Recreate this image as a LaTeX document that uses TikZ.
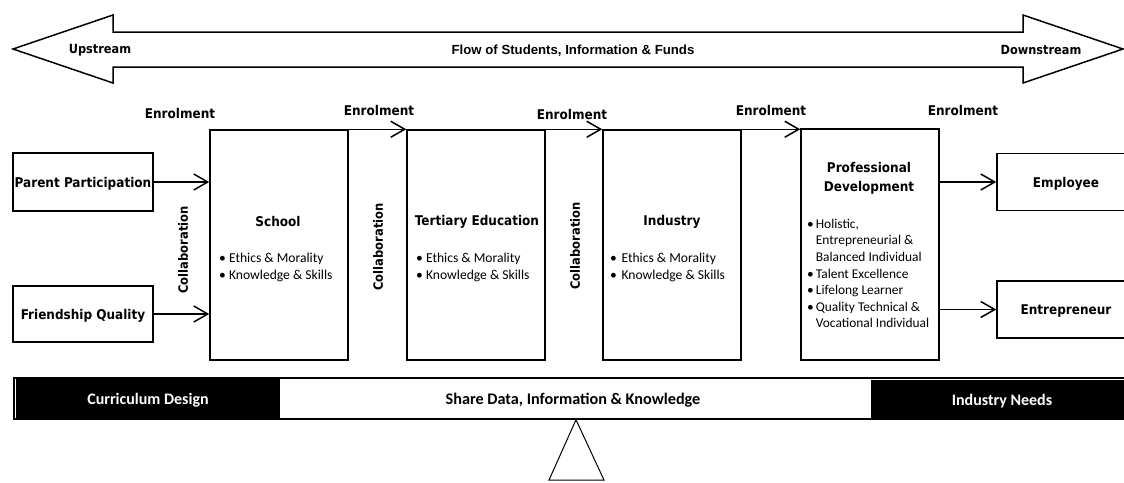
\documentclass[tikz,border=0pt]{standalone}
\usepackage{fontspec}
\setmainfont{Carlito}
\newfontfamily\tah{DejaVu Sans Condensed}
\newfontfamily\arl{Liberation Sans}
\usetikzlibrary{arrows.meta}
\tikzset{
  box/.style={draw, line width=1.5pt, inner sep=0pt},
  arr/.style={line width=1.5pt, -{Straight Barb[length=14pt,width=16pt,line width=1.5pt]}},
  bt/.style={font=\tah\bfseries\fontsize{13.4}{15}\selectfont, inner sep=0pt},
  bul/.style={font=\fontsize{13.6}{17}\selectfont, align=left, inner sep=0pt, anchor=west},
  blk/.style={fill=black, draw=black, inner sep=0pt, text=white, font=\bfseries\fontsize{16}{18}\selectfont}
}
\begin{document}
\begin{tikzpicture}[x=1pt,y=-1pt]
\useasboundingbox (0,0) rectangle (1124,482);
\clip (0,0) rectangle (1124,482);
% big double arrow
\draw[line width=1.5pt, line join=miter] (13,49) -- (113,15) -- (113,32) -- (1023,32) -- (1023,15) -- (1123,49)
  -- (1023,83) -- (1023,67) -- (113,67) -- (113,83) -- cycle;
\node[bt, font=\tah\bfseries\fontsize{12.6}{15}\selectfont] (up) at (100,50) {Upstream};
\node[font=\arl\bfseries\fontsize{13.2}{15}\selectfont, inner sep=0pt] (flow) at (573,50.5) {Flow of Students, Information \& Funds};
\node[bt, font=\tah\bfseries\fontsize{12.6}{15}\selectfont] (down) at (1041,50) {Downstream};
% side boxes
\node[box, minimum width=140pt, minimum height=58pt] (parent) at (83,182) {};
\node[bt] (parentt) at (83,183.5) {Parent Participation};
\node[box, minimum width=140pt, minimum height=56pt] (friend) at (83,314) {};
\node[bt] (friendt) at (83,316) {Friendship Quality};
% main boxes
\node[box, minimum width=138pt, minimum height=230pt] (school) at (279,245) {};
\node[box, minimum width=138pt, minimum height=230pt] (tert) at (476,245) {};
\node[box, minimum width=138pt, minimum height=230pt] (ind) at (672,245) {};
\node[box, minimum width=138pt, minimum height=231pt] (pd) at (870,244.5) {};
\node[bt] (schoolt) at (278,222) {School};
\node[bt] (tertt) at (477,222) {Tertiary Education};
\node[bt] (indt) at (672,222) {Industry};
\node[bt, align=center, font=\tah\bfseries\fontsize{13.4}{19.5}\selectfont] (pdt) at (869,178.5) {Professional\\Development};
\node[bul] (schoolb) at (219,267) {\textbullet\ Ethics \& Morality\\\textbullet\ Knowledge \& Skills};
\node[bul] (tertb) at (416,267) {\textbullet\ Ethics \& Morality\\\textbullet\ Knowledge \& Skills};
\node[bul] (indb) at (610,267) {\textbullet\ \kern1.5pt Ethics \& Morality\\\textbullet\ \kern1.5pt Knowledge \& Skills};
\node[anchor=north west, inner sep=0pt, font=\fontsize{13.4}{16.6}\selectfont] (pdb) at (807,216.5) {%
\begin{tabular}{@{}l@{\hspace{2pt}}l@{}}
\textbullet & Holistic,\\
 & Entrepreneurial \&\\
 & Balanced Individual\\
\textbullet & Talent Excellence\\
\textbullet & Lifelong Learner\\
\textbullet & Quality Technical \&\\
 & Vocational Individual
\end{tabular}};
% outcome boxes
\node[box, minimum width=135pt, minimum height=57pt] (emp) at (1064.5,182) {};
\node[bt] (empt) at (1066,184) {Employee};
\node[box, minimum width=135pt, minimum height=57pt] (ent) at (1064.5,309.5) {};
\node[bt] (entt) at (1066,311.5) {Entrepreneur};
% enrolment labels
\node[bt] (e1) at (180,114) {Enrolment};
\node[bt] (e2) at (379,111) {Enrolment};
\node[bt] (e3) at (572,115) {Enrolment};
\node[bt] (e4) at (771,111) {Enrolment};
\node[bt] (e5) at (963,111) {Enrolment};
% collaboration labels
\node[bt, rotate=90, font=\tah\bfseries\fontsize{12.8}{15}\selectfont] (c1) at (183,250) {Collaboration};
\node[bt, rotate=90, font=\tah\bfseries\fontsize{12.8}{15}\selectfont] (c2) at (378,247) {Collaboration};
\node[bt, rotate=90, font=\tah\bfseries\fontsize{12.8}{15}\selectfont] (c3) at (575,246) {Collaboration};
% connectors
\draw[arr] (school.north east) -- (tert.north west);
\draw[arr] (tert.north east) -- (ind.north west);
\draw[arr] (ind.north east) -- (ind.north east -| pd.west);
\draw[arr] (parent.east) -- (parent.east -| school.west);
\draw[arr] (friend.east) -- (friend.east -| school.west);
\draw[arr] (pd.east |- emp.west) -- (emp.west);
\draw[arr] (pd.east |- ent.west) -- (ent.west);
% bottom bar
\node[box, minimum width=1116pt, minimum height=41pt] (bar) at (572,398.5) {};
\node[font=\bfseries\fontsize{16.2}{18}\selectfont, inner sep=0pt] (bart) at (573,400) {Share Data, Information \& Knowledge};
\node[blk, minimum width=263pt, minimum height=38pt] (cur) at (147.5,398) {};
\node[font=\bfseries\fontsize{16}{18}\selectfont, text=white, inner sep=0pt] (curt) at (148,400) {Curriculum Design};
\node[blk, minimum width=259pt, minimum height=38pt] (need) at (1000.5,399) {};
\node[font=\bfseries\fontsize{16}{18}\selectfont, text=white, inner sep=0pt] (needt) at (1002,401) {Industry Needs};
% fulcrum
\draw[line width=1pt] (bar.south -| 576,0) -- (549,480) -- (604,480) -- cycle;
\end{tikzpicture}
\end{document}
